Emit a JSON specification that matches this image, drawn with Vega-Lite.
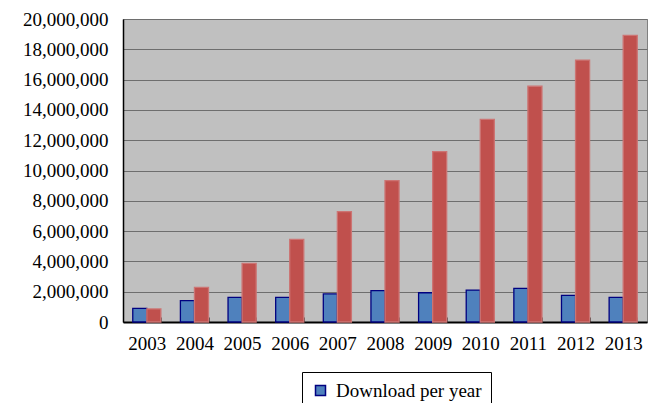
{
  "$schema": "https://vega.github.io/schema/vega-lite/v6.json",
  "width": 524,
  "height": 303,
  "autosize": {"type": "none"},
  "padding": {"left": 123, "top": 19, "right": 3, "bottom": 81},
  "background": "white",
  "config": {
    "view": {"fill": "#C0C0C0", "stroke": "#808080", "strokeWidth": 1},
    "font": "Liberation Serif",
    "axis": {"labelFont": "Liberation Serif", "labelFontSize": 19, "labelColor": "black"},
    "legend": {"labelFont": "Liberation Serif"}
  },
  "data": {
    "values": [
      {"year": "2003", "series": "Download per year", "value": 900000},
      {"year": "2004", "series": "Download per year", "value": 1410000},
      {"year": "2005", "series": "Download per year", "value": 1630000},
      {"year": "2006", "series": "Download per year", "value": 1630000},
      {"year": "2007", "series": "Download per year", "value": 1850000},
      {"year": "2008", "series": "Download per year", "value": 2070000},
      {"year": "2009", "series": "Download per year", "value": 1930000},
      {"year": "2010", "series": "Download per year", "value": 2110000},
      {"year": "2011", "series": "Download per year", "value": 2220000},
      {"year": "2012", "series": "Download per year", "value": 1760000},
      {"year": "2013", "series": "Download per year", "value": 1630000},
      {"year": "2003", "series": "Cumulative downloads", "value": 860000},
      {"year": "2004", "series": "Cumulative downloads", "value": 2290000},
      {"year": "2005", "series": "Cumulative downloads", "value": 3870000},
      {"year": "2006", "series": "Cumulative downloads", "value": 5460000},
      {"year": "2007", "series": "Cumulative downloads", "value": 7280000},
      {"year": "2008", "series": "Cumulative downloads", "value": 9330000},
      {"year": "2009", "series": "Cumulative downloads", "value": 11240000},
      {"year": "2010", "series": "Cumulative downloads", "value": 13380000},
      {"year": "2011", "series": "Cumulative downloads", "value": 15560000},
      {"year": "2012", "series": "Cumulative downloads", "value": 17290000},
      {"year": "2013", "series": "Cumulative downloads", "value": 18920000}
    ]
  },
  "mark": {"type": "bar", "strokeWidth": 1.3},
  "encoding": {
    "x": {
      "field": "year",
      "type": "nominal",
      "scale": {"paddingInner": 0.41, "paddingOuter": 0.205},
      "axis": {
        "title": null,
        "labelAngle": 0,
        "labelFont": "Liberation Serif",
        "labelFontSize": 19,
        "labelColor": "black",
        "labelPadding": 17,
        "domainColor": "black",
        "domainWidth": 2,
        "tickBand": "extent",
        "tickColor": "#555555",
        "tickSize": -5,
        "grid": false
      }
    },
    "xOffset": {
      "field": "series",
      "type": "nominal",
      "sort": ["Download per year", "Cumulative downloads"],
      "scale": {"paddingInner": 0, "paddingOuter": 0}
    },
    "y": {
      "field": "value",
      "type": "quantitative",
      "scale": {"domain": [0, 20000000], "nice": false},
      "axis": {
        "title": null,
        "values": [0, 2000000, 4000000, 6000000, 8000000, 10000000, 12000000, 14000000, 16000000, 18000000, 20000000],
        "format": ",d",
        "labelFont": "Liberation Serif",
        "labelFontSize": 19,
        "labelColor": "black",
        "labelPadding": 15,
        "ticks": false,
        "domainColor": "black",
        "domainWidth": 1.5,
        "grid": true,
        "gridColor": "#6E6E6E",
        "gridWidth": 1,
        "gridOpacity": 1
      }
    },
    "color": {
      "field": "series",
      "type": "nominal",
      "sort": ["Download per year", "Cumulative downloads"],
      "scale": {"domain": ["Download per year", "Cumulative downloads"], "range": ["#4F81BD", "#C0504D"]},
      "legend": {
        "title": null,
        "values": ["Download per year"],
        "orient": "none",
        "legendX": 179,
        "legendY": 353,
        "direction": "horizontal",
        "padding": 9,
        "strokeColor": "black",
        "fillColor": "white",
        "symbolType": "square",
        "symbolSize": 100,
        "symbolStrokeColor": "#000080",
        "symbolStrokeWidth": 1.5,
        "symbolOpacity": 1,
        "labelFont": "Liberation Serif",
        "labelFontSize": 19,
        "labelColor": "black",
        "labelOffset": 6,
        "labelLimit": 300
      }
    },
    "stroke": {
      "field": "series",
      "type": "nominal",
      "scale": {"domain": ["Download per year", "Cumulative downloads"], "range": ["#000080", "#CC7473"]},
      "legend": null
    }
  }
}
